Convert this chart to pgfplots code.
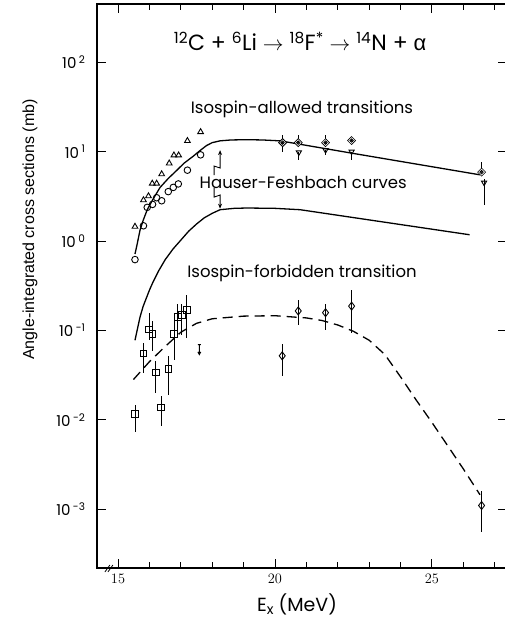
\documentclass[border=0pt]{standalone}
\usepackage{pgfplots}
\pgfplotsset{compat=1.18}
\usepackage{fontspec}
\setmainfont{Liberation Sans}
\newfontfamily\pop{Poppins}
\usetikzlibrary{arrows.meta}

\pgfdeclareplotmark{darrow}{%
  \pgfpathmoveto{\pgfpoint{0pt}{\pgfplotmarksize}}%
  \pgfpathlineto{\pgfpoint{0pt}{-\pgfplotmarksize}}%
  \pgfpathmoveto{\pgfpoint{-0.3\pgfplotmarksize}{-0.45\pgfplotmarksize}}%
  \pgfpathlineto{\pgfpoint{0pt}{-\pgfplotmarksize}}%
  \pgfpathlineto{\pgfpoint{0.3\pgfplotmarksize}{-0.45\pgfplotmarksize}}%
  \pgfpathmoveto{\pgfpoint{-0.3\pgfplotmarksize}{\pgfplotmarksize}}%
  \pgfpathlineto{\pgfpoint{0.3\pgfplotmarksize}{\pgfplotmarksize}}%
  \pgfusepathqstroke}
\pgfdeclareplotmark{dcirc}{%
  \pgfpathmoveto{\pgfpoint{0pt}{\pgfplotmarksize}}%
  \pgfpathlineto{\pgfpoint{\pgfplotmarksize}{0pt}}%
  \pgfpathlineto{\pgfpoint{0pt}{-\pgfplotmarksize}}%
  \pgfpathlineto{\pgfpoint{-\pgfplotmarksize}{0pt}}%
  \pgfpathclose
  \pgfusepathqfillstroke
  \pgfsetlinewidth{0.6pt}%
  \pgfpathcircle{\pgfpointorigin}{0.45\pgfplotmarksize}%
  \pgfpathmoveto{\pgfpoint{-0.3\pgfplotmarksize}{-0.3\pgfplotmarksize}}%
  \pgfpathlineto{\pgfpoint{0.3\pgfplotmarksize}{0.3\pgfplotmarksize}}%
  \pgfpathmoveto{\pgfpoint{-0.3\pgfplotmarksize}{0.3\pgfplotmarksize}}%
  \pgfpathlineto{\pgfpoint{0.3\pgfplotmarksize}{-0.3\pgfplotmarksize}}%
  \pgfusepathqstroke}

\begin{document}
\begin{tikzpicture}
\useasboundingbox (-97pt,-60pt) rectangle (408pt,568pt);
\clip (-97pt,-60pt) rectangle (408pt,568pt);
\begin{axis}[
  name=ax, at={(0pt,0pt)}, anchor=south west,
  scale only axis, width=410pt, height=564pt,
  xmin=14.33, xmax=27.39,
  ymode=log, ymin=2.2e-4, ymax=448,
  xtick={15,20,25}, minor xtick={16,17,18,19,21,22,23,24,26,27},
  ytick={1e-3,1e-2,1e-1,1,10,100},
  yticklabels={10\,\textsuperscript{-3},10\,\textsuperscript{-2},10\,\textsuperscript{-1},10\,\textsuperscript{0},10\,\textsuperscript{1},10\,\textsuperscript{2}},
  yminorticks=false,
  tick align=inside,
  major tick length=9pt, minor tick length=6pt,
  axis line style={line width=1.4pt},
  every tick/.style={line width=1pt, black},
  xticklabel style={font=\pop\fontsize{15}{17}\selectfont, yshift=-3pt},
  yticklabel style={font=\pop\fontsize{15}{17}\selectfont, xshift=-8pt},
  clip=false,
]
% Hauser-Feshbach upper
\addplot[line width=1.3pt, black, no marks] coordinates {
 (15.54,0.716) (15.6,0.89) (15.7,1.32) (15.8,1.70) (15.93,2.24) (16.1,2.88) (16.34,3.98)
 (16.6,5.01) (16.87,6.17) (17.1,7.41) (17.4,8.91) (17.6,10.2) (17.82,11.7) (18.0,12.6)
 (18.25,13.2) (18.6,13.5) (19.1,13.6) (19.6,13.5) (20.16,13.2) (22.49,9.55) (26.53,5.5)};
% Hauser-Feshbach lower
\addplot[line width=1.3pt, black, no marks] coordinates {
 (15.54,0.0776) (15.7,0.141) (15.8,0.186) (16.0,0.282) (16.1,0.339) (16.3,0.468)
 (16.5,0.617) (16.75,0.813) (17.0,1.023) (17.25,1.288) (17.5,1.549) (17.75,1.82)
 (18.0,2.04) (18.25,2.24) (18.7,2.32) (19.1,2.34) (20.0,2.32) (20.8,2.24) (26.2,1.175)};
% isospin-forbidden dashed
\addplot[line width=1.3pt, black, no marks, dash pattern=on 10pt off 6pt] coordinates {
 (15.49,0.0282) (16.0,0.0447) (16.5,0.066) (17.0,0.0955) (17.5,0.120) (18.0,0.135)
 (19.0,0.1445) (20.0,0.146) (21.0,0.138) (21.5,0.129) (22.0,0.115) (22.5,0.0977)
 (23.0,0.0776) (23.5,0.0537) (24.0,0.0302) (24.5,0.0166) (25.0,0.00933) (25.5,0.00513)
 (26.0,0.00282) (26.53,0.00145)};
% circles
\addplot[only marks, mark=o, mark size=3.3pt, line width=0.9pt] coordinates {
 (15.54,0.62) (15.81,1.48) (15.93,2.38) (16.10,2.57) (16.23,3.05) (16.39,2.82)
 (16.60,3.57) (16.76,3.98) (16.92,4.35) (17.21,6.2) (17.63,9.2)};
% triangles
\addplot[only marks, mark=triangle, mark size=3.3pt, line width=0.9pt] coordinates {
 (15.54,1.45) (15.81,2.87) (15.97,3.18) (16.09,4.4) (16.23,4.4) (16.39,5.6)
 (16.63,7.4) (16.78,9.1) (16.93,9.1) (17.21,13.2) (17.63,16.6)};
% inverted triangles with error bars
\addplot[only marks, mark=triangle, mark options={rotate=180, fill=white}, mark size=3pt, line width=0.9pt,
  error bars/.cd, y dir=both, y explicit, error bar style={line width=0.9pt}, error mark=none] coordinates {
 (20.76,9.8) += (0,0) -= (0,1.75)
 (21.61,10.4) += (0,0) -= (0,1.3)
 (22.44,10.0) += (0,0) -= (0,1.95)
 (26.66,4.5) += (0,0.5) -= (0,2.0)};
% crossed diamonds with error bars
\addplot[only marks, mark=dcirc, mark options={fill=white}, mark size=4pt, line width=0.9pt,
  error bars/.cd, y dir=both, y explicit, error bar style={line width=0.9pt}, error mark=none] coordinates {
 (20.24,12.6) += (0,2.7) -= (0,2.6)
 (20.74,12.6) += (0,2.7) -= (0,0)
 (21.61,12.6) += (0,2.7) -= (0,0)
 (22.44,13.3) += (0,0) -= (0,0)
 (26.58,5.9) += (0,1.8) -= (0,0)};
% squares with error bars
\addplot[only marks, mark=square, mark options={fill=white}, mark size=3.3pt, line width=0.9pt,
  error bars/.cd, y dir=both, y explicit, error bar style={line width=0.9pt}, error mark=none] coordinates {
 (15.54,0.0116) += (0,0.0032) -= (0,0.0042)
 (15.81,0.055) += (0,0.017) -= (0,0.022)
 (15.99,0.103) += (0,0.052) -= (0,0.025)
 (16.10,0.091) += (0,0.035) -= (0,0.032)
 (16.20,0.034) += (0,0.012) -= (0,0.014)
 (16.37,0.0138) += (0,0.0048) -= (0,0.0053)
 (16.60,0.037) += (0,0.015) -= (0,0.018)
 (16.79,0.091) += (0,0.047) -= (0,0.044)
 (16.90,0.142) += (0,0.058) -= (0,0.053)
 (17.03,0.149) += (0,0.051) -= (0,0.06)
 (17.19,0.17) += (0,0.08) -= (0,0.087)};
% diamonds (forbidden) with error bars
\addplot[only marks, mark=diamond, mark options={fill=white}, mark size=4pt, line width=0.9pt,
  error bars/.cd, y dir=both, y explicit, error bar style={line width=0.9pt}, error mark=none] coordinates {
 (20.23,0.052) += (0,0.019) -= (0,0.021)
 (20.74,0.165) += (0,0.055) -= (0,0.05)
 (21.61,0.158) += (0,0.042) -= (0,0.056)
 (22.44,0.187) += (0,0.093) -= (0,0.094)
 (26.58,0.0011) += (0,0.00048) -= (0,0.00055)};
% upper limit
\addplot[only marks, mark=darrow, mark size=5pt, line width=0.9pt] coordinates {(17.59,0.061)};
% pointer arrows
\draw[line width=0.9pt, -{Stealth[length=5pt,width=4pt]}] (axis cs:18.06,5.47) -- (axis cs:18.06,6.9) -- (axis cs:18.25,6.56) -- (axis cs:18.25,10.4);
\draw[line width=0.9pt, -{Stealth[length=5pt,width=4pt]}] (axis cs:18.06,3.92) -- (axis cs:18.06,3.10) -- (axis cs:18.25,3.27) -- (axis cs:18.25,2.3);
% texts
\node[font=\pop\fontsize{22}{26}\selectfont] at (axis cs:20.8,170) {\textsuperscript{12}C + \textsuperscript{6}Li $\rightarrow$ \textsuperscript{18}F\textsuperscript{*} $\rightarrow$ \textsuperscript{14}N + {\rmfamily α}};
\node[font=\pop\fontsize{16.5}{19}\selectfont] at (axis cs:20.86,30) {Isospin-allowed transitions};
\node[font=\pop\fontsize{16.5}{19}\selectfont] at (axis cs:20.9,4.46) {Hauser-Feshbach curves};
\node[font=\pop\fontsize{16.5}{19}\selectfont] at (axis cs:20.86,0.44) {Isospin-forbidden transition};
\node[rotate=90, font=\fontsize{16}{19}\selectfont] at ([xshift=-67pt]rel axis cs:0,0.6) {Angle-integrated cross sections (mb)};
\node[font=\pop\fontsize{19}{22}\selectfont] at ([yshift=-36pt]rel axis cs:0.488,0) {E\raisebox{-0.35ex}{\fontsize{14}{16}\selectfont x} (MeV)};
% axis break
\draw[line width=0.8pt] ([xshift=-4pt,yshift=-4pt]rel axis cs:0.029,0) -- ++(5pt,7pt);
\draw[line width=0.8pt] ([xshift=-1pt,yshift=-4pt]rel axis cs:0.029,0) -- ++(5pt,7pt);
\end{axis}
\end{tikzpicture}
\end{document}
